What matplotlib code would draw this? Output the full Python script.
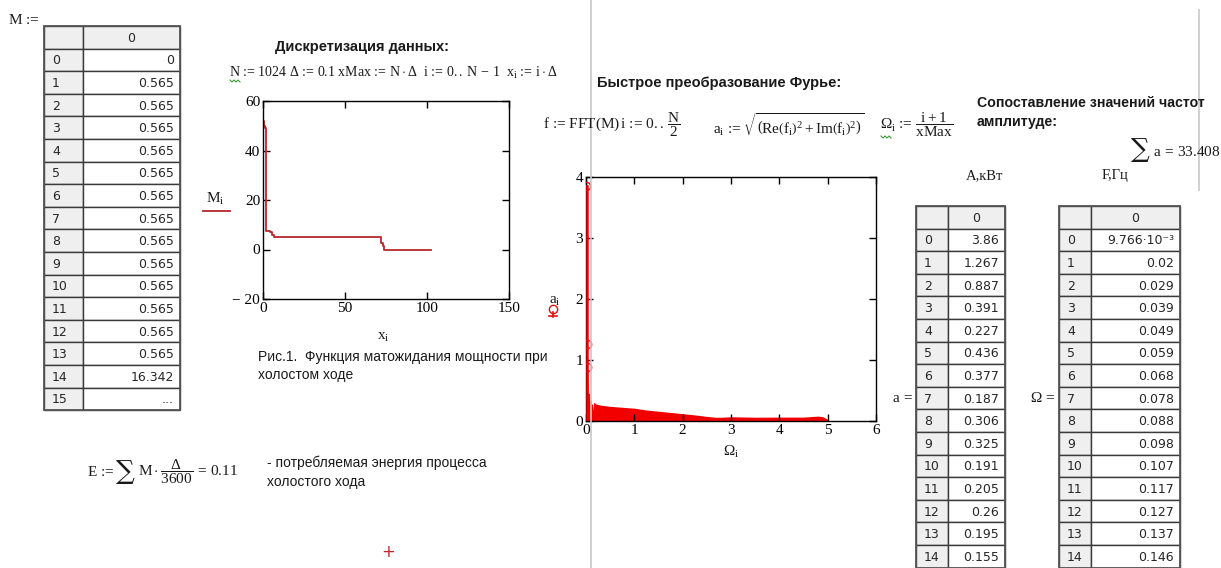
import matplotlib
matplotlib.use("Agg")
import matplotlib.pyplot as plt
from matplotlib.patches import Rectangle

plt.rcParams["mathtext.fontset"] = "custom"
plt.rcParams["mathtext.rm"] = "Liberation Serif"
plt.rcParams["mathtext.it"] = "Liberation Serif"
plt.rcParams["mathtext.bf"] = "Liberation Serif:bold"

# input signal M (first rows of the table)
m_rows = [0, 0.565, 0.565, 0.565, 0.565, 0.565, 0.565, 0.565, 0.565,
          0.565, 0.565, 0.565, 0.565, 0.565, 16.342]

# mean power vs time, piecewise levels of the idle run
t_steps = [0, 0.2, 0.5, 1.2, 1.6, 4.0, 5.5, 7.0, 72.0, 73.0, 74.0, 102.3]
m_steps = [0, 52, 50, 49, 7.5, 7.0, 6.0, 5.2, 2.5, 1.5, 0, 0]

# FFT amplitudes and frequencies (table part)
amp_head = [3.86, 1.267, 0.887, 0.391, 0.227, 0.436, 0.377, 0.187,
            0.306, 0.325, 0.191, 0.205, 0.26, 0.195, 0.155]
freq_head = [0.009766, 0.02, 0.029, 0.039, 0.049, 0.059, 0.068, 0.078,
             0.088, 0.098, 0.107, 0.117, 0.127, 0.137, 0.146]

# rest of the spectrum (upper edge)
freq_tail = [0.16, 0.2, 0.3, 0.5, 0.75, 1.0, 1.25, 1.5, 1.75, 2.0, 2.25,
             2.5, 2.7, 2.9, 3.0, 3.5, 4.0, 4.5, 4.8, 4.9, 5.0, 5.01]
amp_tail = [0.31, 0.28, 0.26, 0.24, 0.225, 0.21, 0.18, 0.16, 0.14, 0.12, 0.1,
            0.075, 0.06, 0.065, 0.07, 0.062, 0.064, 0.064, 0.08, 0.07, 0.03, 0.0]

W, H = 1221, 568
fig = plt.figure(figsize=(W / 100, H / 100), dpi=100)
fig.patch.set_facecolor("white")

SERIF = "Liberation Serif"
SANS = "Liberation Sans"
TAB = "DejaVu Sans"
INK = "#1a1a1a"
CELL_INK = "#262626"
GREY_CELL = "#efefef"
EDGE = "#3a3a3a"
AS = r"\text{:=}"
EQ = r"\,=\,"


def box(x0, y0, x1, y1):
    return [x0 / W, 1 - y1 / H, (x1 - x0) / W, (y1 - y0) / H]


def mathcad_axes(rect):
    ax = fig.add_axes(rect)
    for s in ax.spines.values():
        s.set_linewidth(1.0)
    ax.tick_params(direction="in", top=True, right=True, length=5, width=1,
                   labelsize=11, pad=2)
    return ax


# --- plot 1: M_i vs x_i
ax1 = mathcad_axes(box(263, 101, 509, 299))
ax1.step(t_steps, m_steps, where="post", color="#b8262b", lw=1.3)
ax1.set_xlim(0, 150)
ax1.set_ylim(-20, 60)
ax1.set_xticks([0, 50, 100, 150])
ax1.set_yticks([-20, 0, 20, 40, 60])
ax1.set_yticklabels(["\u2212 20", "0", "20", "40", "60"], fontfamily=SERIF)
ax1.set_xticklabels(["0", "50", "100", "150"], fontfamily=SERIF)

# --- plot 2: spectrum a_i vs Omega_i
ax2 = mathcad_axes(box(586, 177, 876, 421))
freq = freq_head + freq_tail
amp = amp_head + amp_tail
ax2.fill_between(freq, amp, 0, color="#f20000", lw=0)
ax2.plot(freq_head, amp_head, color="#f20000", lw=1.2)
ax2.plot([0.012, 0.012], [0, amp_head[0]], color="#f20000", lw=1.8, zorder=3)
ax2.plot(freq_head[:3], amp_head[:3], "o", mfc="none", mec="#e01010", ms=6, zorder=4)
ax2.set_xlim(0, 6)
ax2.set_ylim(0, 4)
ax2.set_xticks(range(7))
ax2.set_yticks(range(5))
ax2.set_xticklabels([str(v) for v in range(7)], fontfamily=SERIF)
ax2.set_yticklabels([str(v) for v in range(5)], fontfamily=SERIF)

# --- overlay in pixel coordinates for worksheet text and tables
ov = fig.add_axes([0, 0, 1, 1], zorder=5)
ov.set_xlim(0, W)
ov.set_ylim(H, 0)
ov.axis("off")
ov.patch.set_alpha(0)


def fmt(v):
    if v == 0:
        return "0"
    if abs(v) < 0.01:
        return "9.766\u00b710\u207b\u00b3"
    return f"{v:.3f}".rstrip("0").rstrip(".")


def draw_table(left, split, right, top, row_h, values, tail=None):
    cells = [fmt(v) for v in values]
    if tail is not None:
        cells.append(tail)
    ov.add_patch(Rectangle((left, top), split - left, row_h, fc=GREY_CELL, ec=EDGE, lw=1))
    ov.add_patch(Rectangle((split, top), right - split, row_h, fc=GREY_CELL, ec=EDGE, lw=1))
    ov.text((split + right) / 2, top + row_h / 2 + 1, "0", ha="center", va="center",
            fontsize=9, family=TAB, color=CELL_INK)
    for k, txt in enumerate(cells):
        y = top + (k + 1) * row_h
        ov.add_patch(Rectangle((left, y), split - left, row_h, fc=GREY_CELL, ec=EDGE, lw=1))
        ov.add_patch(Rectangle((split, y), right - split, row_h, fc="white", ec=EDGE, lw=1))
        ov.text(left + 8, y + row_h / 2 + 1, str(k), ha="left", va="center",
                fontsize=9, family=TAB, color=CELL_INK, clip_on=True)
        ov.text(right - 6, y + row_h / 2 + 1, txt, ha="right", va="center",
                fontsize=9, family=TAB, color=CELL_INK, clip_on=True)
    n = len(cells) + 1
    ov.add_patch(Rectangle((left, top), right - left, n * row_h, fc="none", ec="#555555", lw=1.3))


draw_table(44, 83, 180, 26, 22.6, m_rows, tail="...")
draw_table(916, 948, 1005, 206, 22.6, amp_head)
draw_table(1059, 1091, 1180, 206, 22.6, freq_head)

# page-break guides
ov.plot([590.5, 590.5], [0, H], color="#c8c8c8", lw=1.2)
ov.plot([1199, 1199], [10, 190], color="#c8c8c8", lw=1.2)


def squiggle(x0, y0):
    ov.plot([x0 + 2 * k for k in range(6)], [y0 + (k % 2) * 2 for k in range(6)],
            color="#3a9a3a", lw=0.8)


# left part
ov.text(8, 20, r"$\mathrm{M}\ " + AS + "$", fontsize=11, color=INK, va="center")
ov.text(275, 47, "Дискретизация данных:", fontsize=10.5, family=SANS,
        weight="bold", color=INK, va="center")
ov.text(229, 73, r"$\mathrm{N}\ " + AS + r"\ 1024\ \Delta\ " + AS + r"\ 0.1\ \mathrm{xMax}\ " + AS
        + r"\ \mathrm{N}\cdot\Delta\ \ \mathrm{i}\ " + AS + r"\ 0..\,\mathrm{N}\,-\,1\ \ "
        r"\mathrm{x}_{\mathrm{i}}\ " + AS + r"\ \mathrm{i}\cdot\Delta$",
        fontsize=10, color=INK, va="center")
squiggle(230, 80)

ov.text(206, 199, r"$\mathrm{M}_{\mathrm{i}}$", fontsize=11, color=INK, va="center")
ov.plot([203, 230], [211, 211], color="#b8262b", lw=1.3)
ov.text(383, 336, r"$\mathrm{x}_{\mathrm{i}}$", fontsize=11, color=INK, va="center", ha="center")
ov.text(258, 357, "Рис.1.  Функция матожидания мощности при", fontsize=10, family=SANS,
        color=INK, va="center")
ov.text(258, 375, "холостом ходе", fontsize=10, family=SANS, color=INK, va="center")

ov.text(87, 472, r"$\mathrm{E}\ " + AS + "$", fontsize=11, color=INK, va="center")
ov.text(116, 471, "\u2211", fontsize=19, family="DejaVu Serif", color=INK, va="center")
ov.text(138, 472, r"$\mathrm{M}\cdot\dfrac{\Delta}{3600}" + EQ + "0.11$",
        fontsize=11, color=INK, va="center")
ov.text(267, 463, "- потребляемая энергия процесса", fontsize=10, family=SANS,
        color=INK, va="center")
ov.text(267, 482, "холостого хода", fontsize=10, family=SANS, color=INK, va="center")
ov.text(388, 552, "+", fontsize=12, color="#c0282d", ha="center", va="center")

# FFT part
ov.text(597, 83, "Быстрое преобразование Фурье:", fontsize=10.5, family=SANS,
        weight="bold", color=INK, va="center")
ov.text(543, 125, r"$\mathrm{f}\ " + AS + r"\ \mathrm{FFT(M)}\,\mathrm{i}\ " + AS
        + r"\ 0..\,\dfrac{\mathrm{N}}{2}$", fontsize=11, color=INK, va="center")
ov.text(713, 125, r"$\mathrm{a}_{\mathrm{i}}\ " + AS + r"\ \sqrt{\left(\mathrm{Re}\left(\mathrm{f}_{\mathrm{i}}"
        r"\right)^{2} + \mathrm{Im}\left(\mathrm{f}_{\mathrm{i}}\right)^{2}\right)}$",
        fontsize=11, color=INK, va="center")
ov.text(880, 125, r"$\Omega_{\mathrm{i}}\ " + AS + r"\ \dfrac{\mathrm{i} + 1}{\mathrm{xMax}}$",
        fontsize=11, color=INK, va="center")
squiggle(881, 136)

ov.text(549, 300, r"$\mathrm{a}_{\mathrm{i}}$", fontsize=11, color=INK, va="center")
ov.plot([553], [309], "o", mfc="none", mec="#e01010", ms=6)
ov.plot([553, 553], [312, 317], color="#e01010", lw=1.2)
ov.plot([549, 557], [316, 316], color="#e01010", lw=1.2)
ov.text(731, 452, r"$\Omega_{\mathrm{i}}$", fontsize=11, color=INK, va="center", ha="center")

# comparison part
ov.text(977, 103, "Сопоставление значений частот", fontsize=10.2, family=SANS,
        weight="bold", color=INK, va="center")
ov.text(977, 122, "амплитуде:", fontsize=10.2, family=SANS, weight="bold",
        color=INK, va="center")
ov.text(1131, 150, "\u2211", fontsize=19, family="DejaVu Serif", color=INK, va="center")
ov.text(1153, 151, r"$\mathrm{a}" + EQ + "33.408$", fontsize=11, color=INK, va="center")
ov.text(985, 176, "A,кВт", fontsize=10.5, family=SERIF, color=INK, va="center", ha="center")
ov.text(1115, 176, "F,Гц", fontsize=10.5, family=SERIF, color=INK, va="center", ha="center")
ov.text(892, 398, r"$\mathrm{a}" + EQ + "$", fontsize=11, color=INK, va="center")
ov.text(1030, 398, r"$\Omega" + EQ + "$", fontsize=11, color=INK, va="center")

fig.savefig("out.png", dpi=100)
